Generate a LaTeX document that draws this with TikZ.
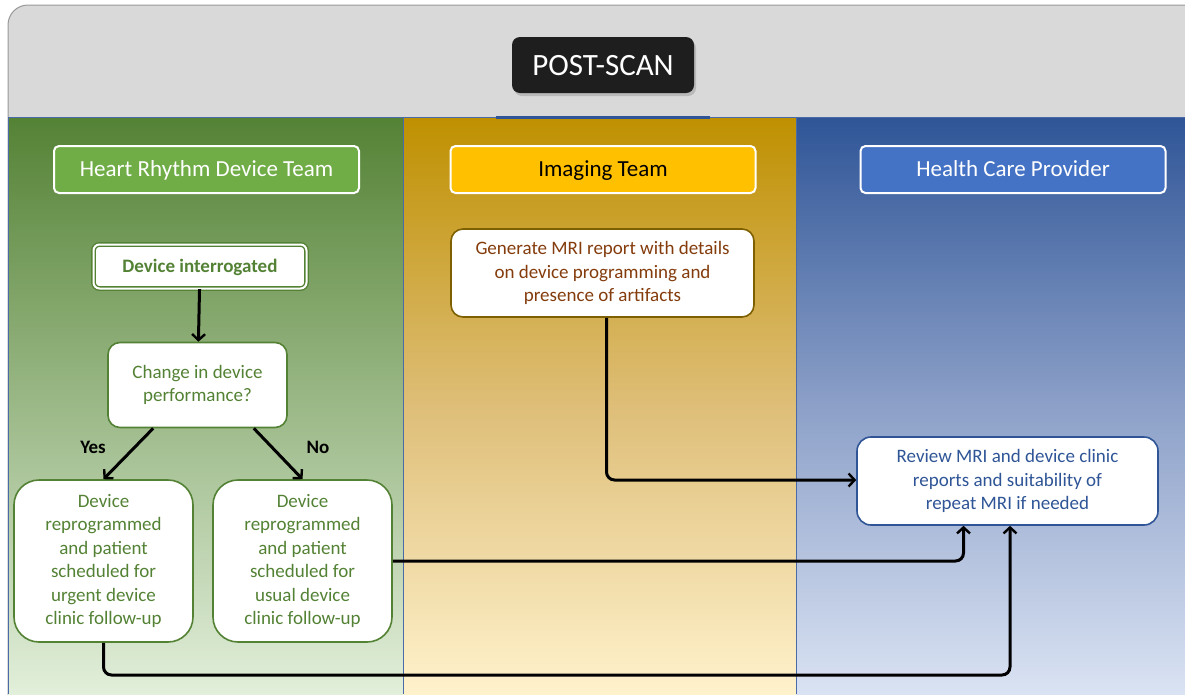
\documentclass[tikz,border=0pt]{standalone}
\usepackage{fontspec}
\setmainfont{Carlito}
\usetikzlibrary{arrows.meta,shadows,calc}
\definecolor{grn}{HTML}{548235}
\definecolor{grnlt}{HTML}{70AD47}
\definecolor{gold}{HTML}{BF9000}
\definecolor{goldlt}{HTML}{FFC000}
\definecolor{blu}{HTML}{2F5597}
\definecolor{blult}{HTML}{4472C4}
\definecolor{brn}{HTML}{843C0C}
\definecolor{goldbd}{HTML}{7F6000}
\definecolor{lane}{HTML}{4A6BA8}
\tikzset{
  hdr/.style={draw=white, line width=2pt, rounded corners=5pt, minimum width=305pt, minimum height=47pt, text height=17pt, text depth=3pt, font=\fontsize{23}{27}\selectfont},
  box/.style={fill=white, line width=1.6pt, align=center, font=\fontsize{19}{23.5}\selectfont},
  arr/.style={draw=black, line width=3pt, -{Straight Barb[length=6pt,width=13pt,line width=2.4pt]}, rounded corners=8pt},
  lbl/.style={font=\fontsize{19}{23}\selectfont\bfseries}
}
\begin{document}
\begin{tikzpicture}[x=1pt,y=-1pt]
\useasboundingbox (0,0) rectangle (1185,694);
\begin{scope}
\clip (0,0) rectangle (1185,694);
% outer frame
\fill[white] (0,0) rectangle (1185,694);
\draw[fill={rgb,255:red,217;green,217;blue,217}, draw=gray!80, line width=1pt, rounded corners=20pt] (8,5) rectangle (1220,730);
% lanes
\shade[top color=grn, bottom color={rgb,255:red,226;green,239;blue,218}] (8,117) rectangle (403,694);
\shade[top color=gold, bottom color={rgb,255:red,255;green,242;blue,204}, middle color={rgb,255:red,222;green,190;blue,120}] (403,117) rectangle (796,694);
\shade[top color=blu, bottom color={rgb,255:red,218;green,227;blue,243}, middle color={rgb,255:red,140;green,160;blue,200}] (796,117) rectangle (1185,694);
\draw[lane, line width=1pt] (8,117) -- (1185,117);
\draw[lane, line width=1pt] (8,117) -- (8,694);
\draw[lane, line width=1pt] (403,117) -- (403,694);
\draw[lane, line width=1pt] (796,117) -- (796,694);
\draw[blu, line width=3pt] (496,117) -- (710,117);
\end{scope}
% title
\node[fill={rgb,255:red,30;green,30;blue,30}, rounded corners=8pt, minimum width=182pt, minimum height=56pt, text height=22pt, text depth=2pt, text=white, font=\fontsize{31}{35}\selectfont, drop shadow={shadow xshift=2pt, shadow yshift=-3pt, opacity=0.35}] (title) at (603,65) {POST-SCAN};
% lane headers
\node[hdr, fill=grnlt, text=white] (h1) at (206.5,169.5) {Heart Rhythm Device Team};
\node[hdr, fill=goldlt, text=black] (h2) at (603,169.5) {Imaging Team};
\node[hdr, fill=blult, text=white] (h3) at (1013,169.5) {Health Care Provider};
% boxes
\node[box, draw=grn, double=white, double distance=2pt, line width=1.4pt, rounded corners=6pt, minimum width=213pt, minimum height=44pt, text height=14pt, text depth=2pt, text=grn, font=\fontsize{19}{23}\selectfont\bfseries] (di) at (200,266.5) {Device interrogated};
\node[box, draw=grn, rounded corners=12pt, minimum width=179pt, minimum height=85pt, text=grn] (ch) at (197.5,385) {Change in device\\performance?};
\node[box, draw=grn, rounded corners=25pt, minimum width=179pt, minimum height=162pt, text=grn] (urg) at (103.5,561) {Device\\reprogrammed\\and patient\\scheduled for\\urgent device\\clinic follow-up};
\node[box, draw=grn, rounded corners=25pt, minimum width=179pt, minimum height=162pt, text=grn] (usu) at (302.5,561) {Device\\reprogrammed\\and patient\\scheduled for\\usual device\\clinic follow-up};
\node[box, draw=goldbd, rounded corners=12pt, minimum width=303pt, minimum height=88pt, text=brn] (mri) at (602.5,273) {Generate MRI report with details\\on device programming and\\presence of artifacts};
\node[box, draw=blu, rounded corners=14pt, minimum width=301pt, minimum height=88pt, text=blu] (rev) at (1007.5,481) {Review MRI and device clinic\\reports and suitability of\\repeat MRI if needed};
% labels
\node[lbl] (yes) at (93,447) {Yes};
\node[lbl] (no) at (318,447) {No};
% connectors
\coordinate (c1) at (103.5,675);
\coordinate (c2) at (1010,675);
\draw[arr] (di) -- (ch);
\draw[arr] ($(ch.south west)+(46,0)$) -- (urg.north);
\draw[arr] ($(ch.south east)+(-34,0)$) -- (usu.north);
\draw[arr] ($(mri.south)+(4,0)$) |- ($(rev.west)+(0,-1)$);
\draw[arr] (usu.east) -| ($(rev.south)+(-44,0)$);
\draw[arr] (urg.south) -- (c1) -- (c2) -- (rev.south -| c2);
\end{tikzpicture}
\end{document}
